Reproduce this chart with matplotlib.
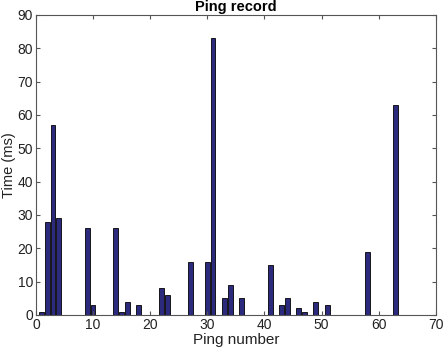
import matplotlib
matplotlib.use("Agg")
import matplotlib.pyplot as plt

# dados
ping = [1, 2, 3, 4, 9, 10, 14, 15, 16, 18, 22, 23, 27, 30, 31, 33, 34, 36,
        41, 43, 44, 46, 47, 49, 51, 58, 63]
tempo = [1, 28, 57, 29, 26, 3, 26, 1, 4, 3, 8, 6, 16, 16, 83, 5, 9, 5,
         15, 3, 5, 2, 1, 4, 3, 19, 63]

plt.rcParams['font.family'] = ['Liberation Sans', 'DejaVu Sans']

fig = plt.figure(figsize=(4.43, 3.53), dpi=100)
ax = fig.add_axes([0.081, 0.108, 0.903, 0.85])

ax.bar(ping, tempo, width=0.85, color='#2b2a7c', edgecolor='black', linewidth=0.6)

ax.set_xlim(0, 70)
ax.set_ylim(0, 90)
ax.set_xticks(range(0, 71, 10))
ax.set_yticks(range(0, 91, 10))
ax.tick_params(direction='in', top=True, right=True, labelsize=10, length=3,
               color='#555555', labelcolor='#222222', pad=2)
for s in ax.spines.values():
    s.set_color('#555555')
    s.set_linewidth(0.8)

ax.set_title("Ping record", fontsize=10.5, fontweight='bold', pad=3)
ax.set_xlabel("Ping number", fontsize=11, color='#222222', labelpad=1)
ax.set_ylabel("Time (ms)", fontsize=10.5, color='#222222')
ax.yaxis.set_label_coords(-0.05, 0.5)

fig.savefig("out.png", dpi=100)
plt.close(fig)
